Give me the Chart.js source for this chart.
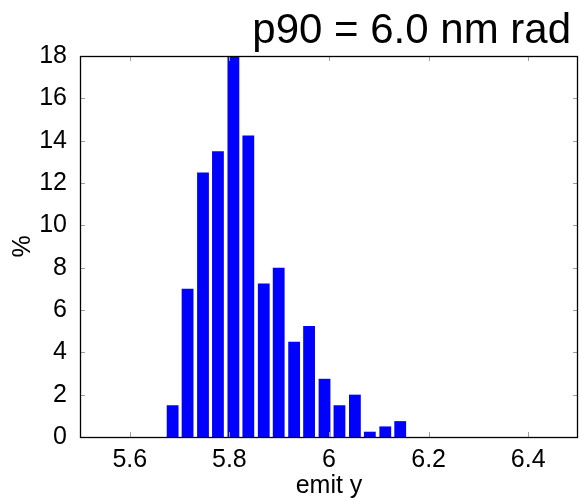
<!DOCTYPE html>
<html>
<head>
<meta charset="utf-8">
<script src="https://cdn.jsdelivr.net/npm/chart.js@4"></script>
<style>
  body { margin: 0; background: #fff; }
</style>
</head>
<body>
<canvas id="chart1" width="579" height="501"></canvas>
<script>
// histogram bins (centres) and percentages
var binCentres = [5.686, 5.716, 5.747, 5.777, 5.808, 5.838, 5.869, 5.899,
                  5.930, 5.960, 5.991, 6.021, 6.052, 6.082, 6.113, 6.143];
var percent = [1.5, 7.0, 12.5, 13.5, 18.0, 14.25, 7.25, 8.0,
               4.5, 5.25, 2.75, 1.5, 2.0, 0.25, 0.5, 0.75];
var xTicks = [5.6, 5.8, 6.0, 6.2, 6.4];
var yTicks = [0, 2, 4, 6, 8, 10, 12, 14, 16, 18];
var titleText = "p90 = 6.0 nm rad";

var font = "'Liberation Sans', Arial, sans-serif";

// frame + inward ticks on all four sides, gnuplot style
var framePlugin = {
  id: "frame",
  afterDraw: function (chart) {
    var ctx = chart.ctx, a = chart.chartArea;
    var xs = chart.scales.x, ys = chart.scales.y;
    var len = 5;
    ctx.save();
    ctx.strokeStyle = "#a0a0a0";
    ctx.lineWidth = 1;
    ctx.beginPath();
    xTicks.forEach(function (v) {
      var px = Math.round(xs.getPixelForValue(v)) + 0.5;
      ctx.moveTo(px, a.bottom); ctx.lineTo(px, a.bottom - len);
      ctx.moveTo(px, a.top); ctx.lineTo(px, a.top + len);
    });
    yTicks.forEach(function (v) {
      var py = Math.round(ys.getPixelForValue(v)) + 0.5;
      ctx.moveTo(a.left, py); ctx.lineTo(a.left + len, py);
      ctx.moveTo(a.right, py); ctx.lineTo(a.right - len, py);
    });
    ctx.stroke();
    ctx.strokeStyle = "#000";
    ctx.lineWidth = 1.3;
    ctx.strokeRect(Math.round(a.left) + 0.5, Math.round(a.top) + 0.5,
                   Math.round(a.right - a.left) - 1, Math.round(a.bottom - a.top));
    // title, right aligned above the frame
    ctx.fillStyle = "#000";
    ctx.font = "42px " + font;
    ctx.textAlign = "right";
    ctx.textBaseline = "alphabetic";
    ctx.fillText(titleText, 571, 43);
    ctx.restore();
  }
};

var ctx1 = document.getElementById("chart1").getContext("2d");
var chart1 = new Chart(ctx1, {
  type: "bar",
  data: {
    datasets: [{
      data: binCentres.map(function (x, i) { return { x: x, y: percent[i] }; }),
      backgroundColor: "#0000ff",
      borderWidth: 0,
      categoryPercentage: 1.0,
      barPercentage: 0.79
    }]
  },
  options: {
    responsive: false,
    animation: false,
    layout: { padding: { top: 56, right: 1, left: 0, bottom: 0 } },
    plugins: { legend: { display: false }, tooltip: { enabled: false } },
    scales: {
      x: {
        type: "linear",
        min: 5.5,
        max: 6.5,
        offset: false,
        grid: { display: false, drawTicks: false, offset: false },
        border: { display: false },
        afterBuildTicks: function (s) { s.ticks = xTicks.map(function (v) { return { value: v }; }); },
        afterFit: function (s) { s.height = 64; },
        ticks: {
          padding: 8,
          color: "#000",
          font: { family: font, size: 25 },
          maxRotation: 0,
          callback: function (v) { return String(Math.round(v * 10) / 10); }
        },
        title: {
          display: true,
          text: "emit y",
          color: "#000",
          font: { family: font, size: 25, lineHeight: 1.2 },
          padding: { top: 0, bottom: 0 }
        }
      },
      y: {
        min: 0,
        max: 18,
        grid: { display: false, drawTicks: false },
        border: { display: false },
        afterBuildTicks: function (s) { s.ticks = yTicks.map(function (v) { return { value: v }; }); },
        afterFit: function (s) { s.width = 80; },
        ticks: {
          padding: 13,
          color: "#000",
          font: { family: font, size: 25 }
        },
        title: {
          display: true,
          text: "%",
          color: "#000",
          font: { family: font, size: 25, lineHeight: 1.2 },
          padding: { top: 8, bottom: 0 }
        }
      }
    }
  },
  plugins: [framePlugin]
});
</script>
</body>
</html>
